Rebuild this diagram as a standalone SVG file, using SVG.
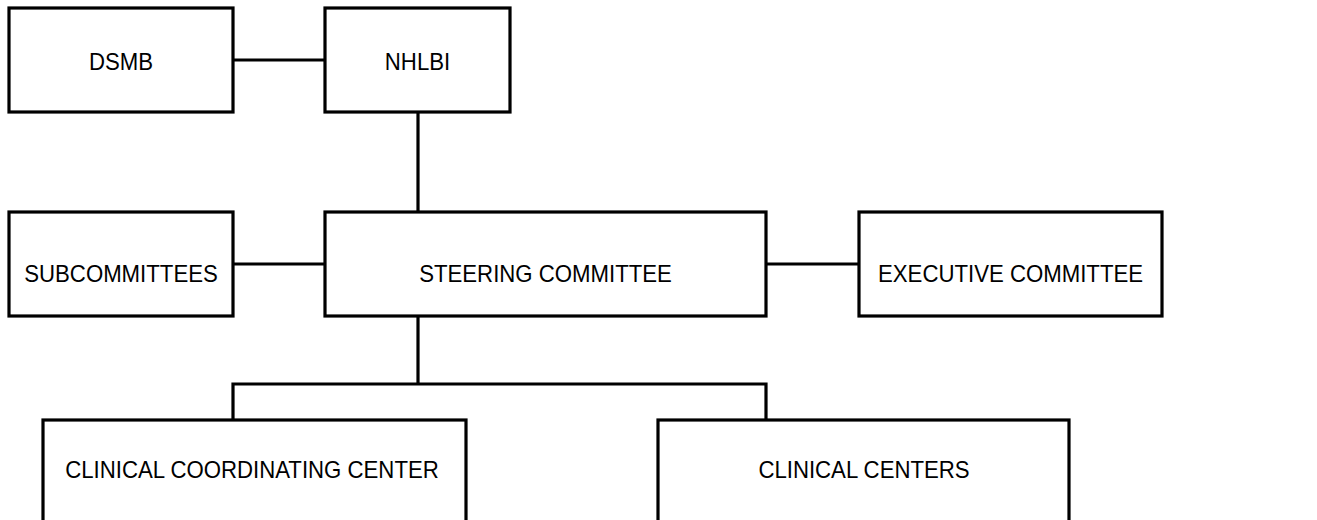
<svg xmlns="http://www.w3.org/2000/svg" width="1317" height="520" viewBox="0 0 1317 520">
<style>
.box{fill:#fff;stroke:#000;stroke-width:3.2}
.lbl{font-family:"Liberation Sans",Arial,sans-serif;font-size:23px;fill:#000;text-anchor:middle}
.con{fill:none;stroke:#000;stroke-width:3.2}
</style>
<rect width="1317" height="520" fill="#fff"/>
<g id="connectors">
<line class="con" x1="233" y1="60" x2="325" y2="60"/>
<line class="con" x1="418" y1="112" x2="418" y2="212"/>
<line class="con" x1="233" y1="264" x2="325" y2="264"/>
<line class="con" x1="766" y1="264" x2="859" y2="264"/>
<polyline class="con" points="418,316 418,384"/>
<polyline class="con" points="233,420 233,384 766,384 766,420"/>
</g>
<g id="dsmb"><rect class="box" x="9" y="8" width="224" height="104"/><text class="lbl" transform="translate(121 70) scale(0.965 1)">DSMB</text></g>
<g id="nhlbi"><rect class="box" x="325" y="8" width="185" height="104"/><text class="lbl" transform="translate(417.5 70) scale(0.965 1)">NHLBI</text></g>
<g id="subcommittees"><rect class="box" x="9" y="212" width="224" height="104"/><text class="lbl" transform="translate(121 282) scale(0.965 1)">SUBCOMMITTEES</text></g>
<g id="steering"><rect class="box" x="325" y="212" width="441" height="104"/><text class="lbl" transform="translate(545.5 282) scale(0.965 1)">STEERING COMMITTEE</text></g>
<g id="executive"><rect class="box" x="859" y="212" width="303" height="104"/><text class="lbl" transform="translate(1010.5 282) scale(0.965 1)">EXECUTIVE COMMITTEE</text></g>
<g id="ccc"><rect class="box" x="43" y="420" width="423" height="120"/><text class="lbl" transform="translate(252 478) scale(0.965 1)">CLINICAL COORDINATING CENTER</text></g>
<g id="cc"><rect class="box" x="658" y="420" width="411" height="120"/><text class="lbl" transform="translate(864 478) scale(0.965 1)">CLINICAL CENTERS</text></g>
</svg>
